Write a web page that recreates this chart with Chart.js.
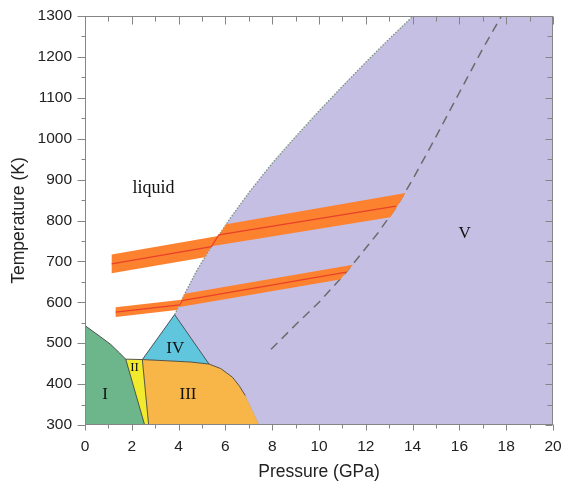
<!DOCTYPE html>
<html>
<head>
<meta charset="utf-8">
<script src="https://cdn.jsdelivr.net/npm/chart.js@4.4.1/dist/chart.umd.min.js"></script>
<style>
  html, body { margin: 0; padding: 0; background: #ffffff; }
  #wrap { width: 563px; height: 484px; }
</style>
</head>
<body>
<div id="wrap"><canvas id="phase" width="563" height="484"></canvas></div>
<script>
// Axis ticks (pressure in GPa, temperature in K)
const pressureTicks = [0, 2, 4, 6, 8, 10, 12, 14, 16, 18, 20];
const temperatureTicks = [300, 400, 500, 600, 700, 800, 900, 1000, 1100, 1200, 1300];

// Phase boundaries, [pressure, temperature]
const meltingCurve = [[3.83, 570], [4.3, 625], [4.8, 680], [5.5, 745], [6.2, 805], [7.0, 868],
  [8.0, 940], [9.0, 1005], [10.0, 1068], [11.0, 1128], [12.0, 1187], [13.0, 1244], [14.02, 1300]];
const boundaryI = [[0, 543], [0.63, 517], [1.1, 497], [1.48, 476], [1.74, 461]];
const boundaryIII = [[2.45, 460], [3.5, 457], [4.5, 454], [5.3, 449], [5.8, 438], [6.3, 417],
  [6.6, 395], [6.85, 372]];
const boundaryIII_V = [[6.85, 372], [7.44, 300]];
const boundaryI_II = [[1.74, 461], [2.55, 300]];
const boundaryII_top = [[1.74, 461], [2.45, 460]];
const boundaryII_III = [[2.45, 460], [2.72, 300]];
const boundaryIV = [[2.45, 460], [3.83, 570], [5.3, 449]];
const dashedBoundary = [[7.95, 485], [9.0, 545], [10.0, 600], [11.0, 663], [11.6, 704], [12.5, 768],
  [13.3, 833], [14.0, 900], [15.0, 1005], [16.0, 1113], [17.0, 1220], [17.8, 1300]];

// Compression paths with their uncertainty bands
const upperBandLiquid = [[1.14, 717], [5.69, 762], [5.12, 710], [1.14, 671]];
const upperBandSolid = [[6.03, 791], [13.7, 867], [13.05, 808], [5.41, 737]];
const upperPath = [[1.14, 694], [5.4, 736], [5.72, 765], [13.3, 835]];
const lowerBandLiquid = [[1.31, 588], [4.13, 606], [3.92, 581], [1.31, 564]];
const lowerBandSolid = [[4.26, 621], [11.45, 692], [10.9, 656], [3.98, 588]];
const lowerPath = [[1.31, 576], [4.05, 593.5], [4.15, 604], [11.17, 674]];

// Region names and where they sit
const regionNames = ['liquid', 'I', 'II', 'III', 'IV', 'V'];
const regionAnchors = [[2.93, 867], [0.855, 364], [2.12, 431], [4.4, 364], [3.86, 476], [16.22, 758]];

// Closed outlines of the phase fields
const phaseI = [[0, 300], ...boundaryI, [2.55, 300]];
const phaseII = [...boundaryII_top, [2.72, 300], [2.55, 300]];
const phaseIII = [...boundaryIII, [7.44, 300], [2.72, 300]];
const phaseIV = [...boundaryIV, ...boundaryIII.filter(p => p[0] > 2.45 && p[0] < 5.3).reverse()];
const phaseV = [...meltingCurve, [20, 1300], [20, 300], [7.44, 300],
  ...boundaryIII.filter(p => p[0] >= 5.3).reverse(), [3.83, 570]];

const pts = arr => arr.map(([x, y]) => ({x, y}));
const closed = arr => pts([...arr, arr[0]]);

function area(data, color, order) {
  return { data: closed(data), showLine: true, fill: 'shape', backgroundColor: color,
    borderWidth: 0, borderColor: 'rgba(0,0,0,0)', pointRadius: 0, tension: 0, order };
}
function edge(data, color, width, dash, order) {
  return { data: pts(data), showLine: true, fill: false, borderColor: color, borderWidth: width,
    borderDash: dash, pointRadius: 0, tension: 0, order };
}

const edgeColor = 'rgba(60,60,60,0.85)';
const datasets = [
  area(phaseV, '#c6bfe4', 20),
  area(phaseI, '#6db68b', 19),
  area(phaseII, '#f2ea2c', 19),
  area(phaseIII, '#f8b649', 19),
  area(phaseIV, '#5fc6dd', 19),
  edge(boundaryIII_V, 'rgba(150,140,120,0.35)', 1, [], 18),
  edge(boundaryI, edgeColor, 1, [], 17),
  edge(boundaryI_II, edgeColor, 1, [], 17),
  edge(boundaryII_top, edgeColor, 1, [], 17),
  edge(boundaryII_III, edgeColor, 1, [], 17),
  edge(boundaryIII, edgeColor, 1, [], 17),
  edge(boundaryIV, edgeColor, 1, [], 17),
  edge(meltingCurve, 'rgba(110,135,115,0.9)', 1.3, [1.5, 1.5], 16),
  edge(dashedBoundary, '#6b6b6b', 1.5, [9, 6], 15),
  area(upperBandLiquid, '#fd8230', 14),
  area(upperBandSolid, '#fd8230', 14),
  area(lowerBandLiquid, '#fd8230', 14),
  area(lowerBandSolid, '#fd8230', 14),
  edge(upperPath, '#e8412a', 1.2, [], 13),
  edge(lowerPath, '#e8412a', 1.2, [], 13)
];

// Frame on all four sides with major/minor ticks (outside left/bottom, inside top/right)
const frameAndTicks = {
  id: 'frameAndTicks',
  afterDraw(chart) {
    const {ctx, chartArea: a, scales: {x, y}} = chart;
    const L = Math.round(a.left) + 0.5, R = Math.round(a.right) - 0.5;
    const T = Math.round(a.top) + 0.5, B = Math.round(a.bottom) - 0.5;
    ctx.save();
    ctx.strokeStyle = '#858585';
    ctx.lineWidth = 1;
    ctx.strokeRect(L, T, R - L, B - T);
    ctx.beginPath();
    const pStep = pressureTicks[1] - pressureTicks[0];
    for (let i = 0; i < pressureTicks.length; i++) {
      const vals = [pressureTicks[i]];
      if (i < pressureTicks.length - 1) vals.push(pressureTicks[i] + pStep / 2);
      vals.forEach((v, k) => {
        const px = Math.round(x.getPixelForValue(v)) + 0.5;
        const major = k === 0;
        ctx.moveTo(px, B); ctx.lineTo(px, B + (major ? 6 : 4));
        ctx.moveTo(px, T); ctx.lineTo(px, T + (major ? 8 : 5));
      });
    }
    const tStep = temperatureTicks[1] - temperatureTicks[0];
    for (let i = 0; i < temperatureTicks.length; i++) {
      const vals = [temperatureTicks[i]];
      if (i < temperatureTicks.length - 1) vals.push(temperatureTicks[i] + tStep / 2);
      vals.forEach((v, k) => {
        const py = Math.round(y.getPixelForValue(v)) + 0.5;
        const major = k === 0;
        ctx.moveTo(L, py); ctx.lineTo(L - (major ? 8 : 4), py);
        ctx.moveTo(R, py); ctx.lineTo(R - (major ? 7 : 5), py);
      });
    }
    ctx.stroke();
    ctx.restore();
  }
};

// Region names in a serif face
const regionLabels = {
  id: 'regionLabels',
  afterDatasetsDraw(chart) {
    const {ctx, scales: {x, y}} = chart;
    const sizes = {liquid: 18, II: 13};
    ctx.save();
    ctx.fillStyle = '#111111';
    ctx.textAlign = 'center';
    ctx.textBaseline = 'alphabetic';
    regionNames.forEach((name, i) => {
      const [p, t] = regionAnchors[i];
      ctx.font = (sizes[name] || 17) + 'px "Liberation Serif", "Times New Roman", serif';
      ctx.fillText(name, x.getPixelForValue(p), y.getPixelForValue(t));
    });
    ctx.restore();
  }
};

const tickFont = { family: '"Liberation Sans", Arial, Helvetica, sans-serif', size: 15.5 };
const titleFont = { family: '"Liberation Sans", Arial, Helvetica, sans-serif', size: 17.5 };

new Chart(document.getElementById('phase'), {
  type: 'scatter',
  data: { datasets },
  options: {
    responsive: false,
    animation: false,
    events: [],
    layout: { padding: { top: 16, right: 10, left: 0, bottom: 0 } },
    plugins: { legend: { display: false }, tooltip: { enabled: false } },
    scales: {
      x: {
        type: 'linear', min: 0, max: 20,
        afterBuildTicks: s => { s.ticks = pressureTicks.map(v => ({value: v})); },
        afterFit: s => { s.height = 59; s.paddingLeft = 0; s.paddingRight = 0; },
        grid: { display: false, drawTicks: false },
        border: { display: false },
        ticks: { font: tickFont, color: '#222222', padding: 12, maxRotation: 0,
          callback: v => String(v) },
        title: { display: true, text: 'Pressure (GPa)', font: titleFont, color: '#222222',
          padding: { top: 0, bottom: 1 } }
      },
      y: {
        type: 'linear', min: 300, max: 1300,
        afterBuildTicks: s => { s.ticks = temperatureTicks.map(v => ({value: v})); },
        afterFit: s => { s.width = 85; s.paddingTop = 0; s.paddingBottom = 0; },
        grid: { display: false, drawTicks: false },
        border: { display: false },
        ticks: { font: tickFont, color: '#222222', padding: 13, callback: v => String(v) },
        title: { display: true, text: 'Temperature (K)', font: titleFont, color: '#222222',
          padding: { top: 9, bottom: 0 } }
      }
    }
  },
  plugins: [regionLabels, frameAndTicks]
});
</script>
</body>
</html>
